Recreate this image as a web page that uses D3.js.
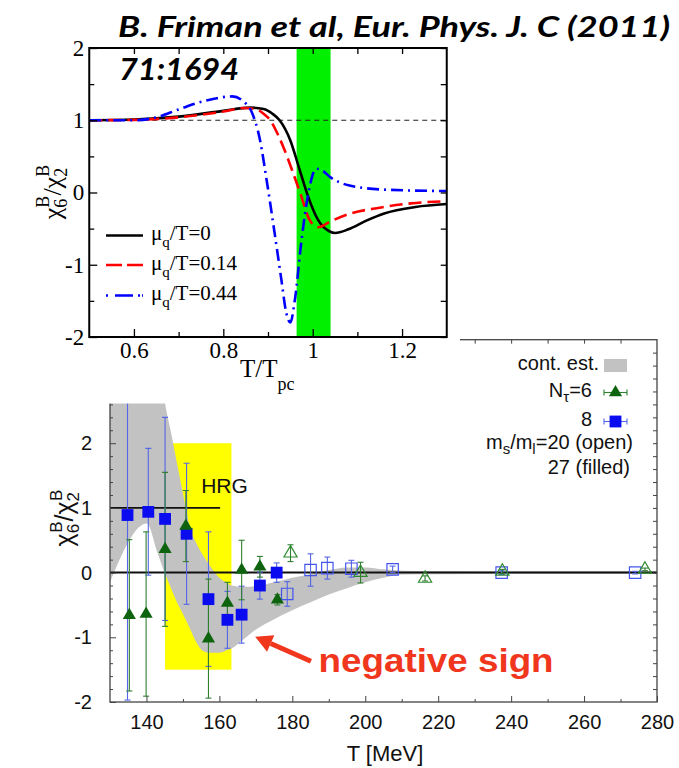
<!DOCTYPE html>
<html>
<head>
<meta charset="utf-8">
<script src="https://cdn.jsdelivr.net/npm/d3@7"></script>
<style>
  body { margin: 0; background: #fff; }
  .serif { font-family: "Liberation Serif", "DejaVu Serif", serif; }
  .sans { font-family: "Liberation Sans", Arial, sans-serif; }
</style>
</head>
<body>
<svg id="chart" width="679" height="768"></svg>
<script>
// ---------- Upper panel: chi6/chi2 from the model vs T/Tpc ----------
const curveMu0   = [[0.5,1.0],[0.6,1.01],[0.7,1.05],[0.8,1.13],[0.86,1.175],[0.89,1.155],[0.91,1.09],[0.926,1.0],[0.95,0.72],[0.971,0.31],[0.99,-0.06],[1.012,-0.38],[1.038,-0.54],[1.05,-0.56],[1.08,-0.51],[1.12,-0.39],[1.16,-0.29],[1.23,-0.2],[1.3,-0.16]];
const curveMu014 = [[0.5,1.0],[0.6,1.005],[0.7,1.04],[0.8,1.12],[0.85,1.17],[0.875,1.15],[0.89,1.09],[0.905,1.0],[0.92,0.83],[0.935,0.62],[0.955,0.29],[0.975,-0.06],[0.993,-0.38],[1.012,-0.48],[1.04,-0.40],[1.08,-0.3],[1.15,-0.21],[1.22,-0.15],[1.3,-0.12]];
const curveMu044 = [[0.5,1.0],[0.6,1.0],[0.65,1.04],[0.7,1.15],[0.76,1.27],[0.82,1.33],[0.845,1.26],[0.863,1.12],[0.882,0.73],[0.897,0.17],[0.915,-0.57],[0.93,-1.21],[0.941,-1.67],[0.95,-1.80],[0.96,-1.49],[0.975,-0.66],[0.99,-0.02],[1.008,0.33],[1.02,0.31],[1.04,0.21],[1.08,0.10],[1.16,0.04],[1.3,0.02]];
const curveLabels = ["0", "0.14", "0.44"];
const transitionBand = [0.964, 1.04];
const upperXTicks = [0.6, 0.8, 1.0, 1.2];
const upperXMinor = [0.7, 0.9, 1.1];
const upperYTicks = [-2, -1, 0, 1, 2];
const upperYMinor = [-1.5, -0.5, 0.5, 1.5];

// ---------- Lower panel: lattice data vs T [MeV] ----------
// [T, value, error]
const nt8Filled = [[134.8,0.89,2.86],[140.5,0.94,0.98],[145.1,0.83,1.57],[151.0,0.60,1.09],[157.0,-0.41,1.04],[162.2,-0.73,0.44],[166.1,-0.65,0.44],[171.1,-0.20,0.21],[175.7,0.0,0.15]];
const nt6Filled = [[135.3,-0.66,1.17],[139.9,-0.64,1.27],[145.1,0.36,1.19],[150.8,0.72,0.55],[157.0,-1.02,0.92],[162.2,-0.47,0.32],[166.1,0.04,0.46],[171.1,0.09,0.16],[175.9,-0.42,0.08]];
const nt8Open   = [[178.6,-0.33,0.19],[185.0,0.04,0.25],[189.6,0.07,0.17],[196.2,0.06,0.13],[207.5,0.05,0.05],[237.4,0.0,0.03],[274.0,0.0,0.02]];
const nt6Open   = [[179.5,0.30,0.13],[198.7,0.0,0.16],[216.4,-0.09,0.04],[237.6,0.02,0.03],[276.7,0.05,0.02]];
// continuum estimate band
const contT     = [130, 140.1, 143, 145.1, 146.5, 148.3, 150.1, 151.9, 153.7, 155.5, 157.5, 160, 162, 163.4, 166, 170, 175, 180, 185, 190, 195, 200, 205, 210, 220, 240, 260, 280];
const contUpper = [3.6, 3.6, 3.6, 2.62, 2.23, 1.71, 1.20, 0.70, 0.45, 0.27, 0.10, -0.08, -0.16, -0.2, -0.22, -0.21, -0.15, -0.08, -0.02, 0.04, 0.08, 0.08, 0.05, 0.03, 0.025, 0.02, 0.02, 0.02];
const contLower = [-0.15, 0.76, 0.31, -0.02, -0.21, -0.45, -0.65, -0.86, -1.08, -1.21, -1.24, -1.24, -1.2, -1.17, -1.06, -0.88, -0.72, -0.58, -0.46, -0.34, -0.24, -0.15, -0.08, -0.03, -0.025, -0.02, -0.02, -0.02];
// hadron resonance gas
const hrgT = [145.1, 163.3];
const hrgRange = [-1.5, 2.0];
const hrgLineT = [130, 160.2];
const hrgValue = 1;
const lowerXTicks = [140, 160, 180, 200, 220, 240, 260, 280];
const lowerYTicks = [-2, -1, 0, 1, 2, 3];
// arrow annotation (data coordinates): tail, tip, text anchor
const arrowTail = [185.1, -1.37];
const arrowTip = [169.8, -0.99];
const noteAnchor = [187.2, -1.54];

const svg = d3.select("#chart");
svg.append("rect").attr("width", 679).attr("height", 768).attr("fill", "#fff");
const hyphenFmt = d => (d < 0 ? "-" : "") + String(+Math.abs(d).toFixed(1));

// ======================= lower panel =======================
const xB = d3.scaleLinear().domain([130, 280]).range([110, 657]);
const yB = d3.scaleLinear().domain([-2, 3.6]).range([702, 339.7]);
const gB = svg.append("g");

svg.append("defs").append("clipPath").attr("id", "clipB")
  .append("rect").attr("x", 110).attr("y", 339.7).attr("width", 547).attr("height", 362.3);
const plotB = gB.append("g").attr("clip-path", "url(#clipB)");

// HRG box
plotB.append("rect")
  .attr("x", xB(hrgT[0])).attr("width", xB(hrgT[1]) - xB(hrgT[0]))
  .attr("y", yB(hrgRange[1])).attr("height", yB(hrgRange[0]) - yB(hrgRange[1]))
  .attr("fill", "#ffff00");

// continuum band
const area = d3.area()
  .x((d, i) => xB(contT[i]))
  .y0((d, i) => yB(contLower[i]))
  .y1((d, i) => yB(contUpper[i]))
  .curve(d3.curveMonotoneX);
plotB.append("path").datum(contT).attr("d", area).attr("fill", "#c2c2c2");

// reference lines
plotB.append("line")
  .attr("x1", xB(hrgLineT[0])).attr("x2", xB(hrgLineT[1]))
  .attr("y1", yB(hrgValue)).attr("y2", yB(hrgValue))
  .attr("stroke", "#111").attr("stroke-width", 1.6);
plotB.append("line")
  .attr("x1", xB(130)).attr("x2", xB(280))
  .attr("y1", yB(0)).attr("y2", yB(0))
  .attr("stroke", "#111").attr("stroke-width", 2);

gB.append("text").attr("class", "sans")
  .attr("x", xB(155)).attr("y", yB(1.23))
  .attr("font-size", 21).attr("fill", "#111").text("HRG");

// error bars
function errorBars(data, color) {
  const g = plotB.append("g").attr("stroke", color).attr("stroke-width", 1.1).attr("fill", "none");
  data.forEach(([t, v, e]) => {
    const x = xB(t), y0 = yB(v - e), y1 = yB(v + e);
    g.append("line").attr("x1", x).attr("x2", x).attr("y1", y0).attr("y2", y1);
    g.append("line").attr("x1", x - 3).attr("x2", x + 3).attr("y1", y0).attr("y2", y0);
    g.append("line").attr("x1", x - 3).attr("x2", x + 3).attr("y1", y1).attr("y2", y1);
  });
}
const blueErr = "#5566e6", greenErr = "#2f7f2f";
const blue = "#0b0bf0", green = "#0e640e";
errorBars(nt8Open, blueErr);
errorBars(nt6Open, greenErr);
errorBars(nt8Filled, blueErr);
errorBars(nt6Filled, greenErr);

const sq = d3.symbol().type(d3.symbolSquare).size(140);
const tri = d3.symbol().type(d3.symbolTriangle).size(75);

plotB.append("g").selectAll("path").data(nt8Open).join("path")
  .attr("d", d3.symbol().type(d3.symbolSquare).size(130))
  .attr("transform", d => `translate(${xB(d[0])},${yB(d[1])})`)
  .attr("fill", "none").attr("stroke", "#4455ee").attr("stroke-width", 1.2);
plotB.append("g").selectAll("path").data(nt6Open).join("path")
  .attr("d", tri)
  .attr("transform", d => `translate(${xB(d[0])},${yB(d[1])})`)
  .attr("fill", "none").attr("stroke", "#2f8a2f").attr("stroke-width", 1.2);
plotB.append("g").selectAll("path").data(nt8Filled).join("path")
  .attr("d", sq)
  .attr("transform", d => `translate(${xB(d[0])},${yB(d[1])})`)
  .attr("fill", blue);
plotB.append("g").selectAll("path").data(nt6Filled).join("path")
  .attr("d", tri)
  .attr("transform", d => `translate(${xB(d[0])},${yB(d[1])})`)
  .attr("fill", green);

// axes of the lower panel
function styleAxis(g) {
  g.select(".domain").remove();
  g.selectAll(".tick line").attr("stroke", "#444").attr("stroke-width", 1);
  g.selectAll("text").attr("class", "sans").attr("font-size", 20).attr("fill", "#111")
    .attr("font-family", null);
}
gB.append("g").attr("transform", "translate(0,702)")
  .call(d3.axisBottom(xB).tickValues(lowerXTicks).tickSize(-6).tickPadding(13).tickFormat(d3.format("d")))
  .call(styleAxis);
gB.append("g").attr("transform", "translate(0,702)")
  .call(d3.axisBottom(xB).tickValues(d3.range(150, 280, 20)).tickSize(-3).tickFormat(""))
  .call(styleAxis);
gB.append("g").attr("transform", "translate(0,339.7)")
  .call(d3.axisTop(xB).tickValues(d3.range(140, 280, 10)).tickSize(-4).tickFormat(""))
  .call(styleAxis);
gB.append("g").attr("transform", "translate(110,0)")
  .call(d3.axisLeft(yB).tickValues(lowerYTicks).tickSize(-6).tickPadding(18).tickFormat(hyphenFmt))
  .call(styleAxis);
gB.append("g").attr("transform", "translate(110,0)")
  .call(d3.axisLeft(yB).tickValues(d3.range(-1.8, 3.6, 0.2).filter(v => Math.abs(v - Math.round(v)) > 0.05)).tickSize(-3).tickFormat(""))
  .call(styleAxis);
gB.append("g").attr("transform", "translate(657,0)")
  .call(d3.axisRight(yB).tickValues(d3.range(-1.8, 3.6, 0.2)).tickSize(-4).tickFormat(""))
  .call(styleAxis);
gB.append("rect").attr("x", 110).attr("y", 339.7).attr("width", 547).attr("height", 362.3)
  .attr("fill", "none").attr("stroke", "#444").attr("stroke-width", 1.3);

// axis titles
gB.append("text").attr("class", "sans").attr("x", 385).attr("y", 761)
  .attr("text-anchor", "middle").attr("font-size", 22).attr("fill", "#111").text("T [MeV]");
const yLabB = gB.append("text").attr("class", "sans")
  .attr("transform", "translate(73,518) rotate(-90)")
  .attr("text-anchor", "middle").attr("font-size", 25).attr("fill", "#111");
yLabB.append("tspan").text("χ");
yLabB.append("tspan").attr("font-size", 17).attr("dy", 6).text("6");
yLabB.append("tspan").attr("font-size", 17).attr("dx", -9).attr("dy", -17).text("B");
yLabB.append("tspan").attr("dy", 11).text("/χ");
yLabB.append("tspan").attr("font-size", 17).attr("dy", 6).text("2");
yLabB.append("tspan").attr("font-size", 17).attr("dx", -9).attr("dy", -17).text("B");

// legend of the lower panel
const lg = gB.append("g").attr("class", "sans").attr("font-size", 20).attr("fill", "#111");
lg.append("text").attr("x", 599).attr("y", 370).attr("text-anchor", "end").text("cont. est.");
lg.append("rect").attr("x", 604).attr("y", 359).attr("width", 23).attr("height", 13).attr("fill", "#c2c2c2");
const lgN = lg.append("text").attr("x", 592).attr("y", 397).attr("text-anchor", "end");
lgN.append("tspan").text("N");
lgN.append("tspan").attr("font-size", 15).attr("dy", 5).text("τ");
lgN.append("tspan").attr("dy", -5).text("=6");
lg.append("text").attr("x", 592).attr("y", 426).attr("text-anchor", "end").text("8");
const lgM = lg.append("text").attr("x", 633).attr("y", 449).attr("text-anchor", "end");
lgM.append("tspan").text("m");
lgM.append("tspan").attr("font-size", 15).attr("dy", 5).text("s");
lgM.append("tspan").attr("dy", -5).text("/m");
lgM.append("tspan").attr("font-size", 15).attr("dy", 5).text("l");
lgM.append("tspan").attr("dy", -5).text("=20 (open)");
lg.append("text").attr("x", 630).attr("y", 474).attr("text-anchor", "end").text("27 (filled)");
function legendBar(y, color) {
  lg.append("line").attr("x1", 604).attr("x2", 627).attr("y1", y).attr("y2", y).attr("stroke", color).attr("stroke-width", 1.1);
  [604, 627].forEach(x => lg.append("line").attr("x1", x).attr("x2", x).attr("y1", y - 3).attr("y2", y + 3).attr("stroke", color).attr("stroke-width", 1.1));
}
legendBar(392.5, greenErr);
lg.append("path").attr("d", tri).attr("transform", "translate(615.5,392.5)").attr("fill", green);
legendBar(421.5, blueErr);
lg.append("path").attr("d", sq).attr("transform", "translate(615.5,421.5)").attr("fill", blue);

// annotation
const red = "#f0361c";
const ax0 = xB(arrowTail[0]), ay0 = yB(arrowTail[1]), ax1 = xB(arrowTip[0]), ay1 = yB(arrowTip[1]);
const ang = Math.atan2(ay1 - ay0, ax1 - ax0);
const headLen = 17, headW = 9;
const bx = ax1 - headLen * Math.cos(ang), by = ay1 - headLen * Math.sin(ang);
gB.append("line").attr("x1", ax0).attr("y1", ay0).attr("x2", bx).attr("y2", by)
  .attr("stroke", red).attr("stroke-width", 5);
gB.append("path").attr("fill", red).attr("d",
  `M${ax1},${ay1} L${bx - headW * Math.sin(ang)},${by + headW * Math.cos(ang)} L${bx + headW * Math.sin(ang)},${by - headW * Math.cos(ang)} Z`);
gB.append("text").attr("class", "sans").attr("x", xB(noteAnchor[0])).attr("y", yB(noteAnchor[1]))
  .attr("font-size", 33).attr("font-weight", "bold").attr("fill", red)
  .attr("textLength", 235).attr("lengthAdjust", "spacingAndGlyphs").text("negative sign");

// ======================= upper panel =======================
svg.append("rect").attr("x", 0).attr("y", 0).attr("width", 460).attr("height", 403.5).attr("fill", "#fff");

const xT = d3.scaleLinear().domain([0.5, 1.3]).range([89.25, 446.75]);
const yT = d3.scaleLinear().domain([-2, 2]).range([337, 48]);
const gT = svg.append("g");

gT.append("rect")
  .attr("x", xT(transitionBand[0])).attr("width", xT(transitionBand[1]) - xT(transitionBand[0]))
  .attr("y", yT(2)).attr("height", yT(-2) - yT(2)).attr("fill", "#00f000");

gT.append("line").attr("x1", xT(0.5)).attr("x2", xT(1.3)).attr("y1", yT(1)).attr("y2", yT(1))
  .attr("stroke", "#222").attr("stroke-width", 1.1).attr("stroke-dasharray", "5,4");

const line = d3.line().x(d => xT(d[0])).y(d => yT(d[1])).curve(d3.curveMonotoneX);
const curveStyles = [
  { data: curveMu0, color: "#000", dash: null },
  { data: curveMu014, color: "#ff0000", dash: "13,6" },
  { data: curveMu044, color: "#0000ff", dash: "12,5,2,5" }
];
curveStyles.forEach(s => {
  gT.append("path").datum(s.data).attr("d", line).attr("fill", "none")
    .attr("stroke", s.color).attr("stroke-width", 2.6)
    .attr("stroke-dasharray", s.dash);
});

function styleAxisT(g) {
  g.select(".domain").remove();
  g.selectAll(".tick line").attr("stroke", "#000").attr("stroke-width", 1.3);
  g.selectAll("text").attr("font-family", null).attr("class", "serif").attr("font-size", 23).attr("fill", "#000");
}
gT.append("g").attr("transform", "translate(0,337)")
  .call(d3.axisBottom(xT).tickValues(upperXTicks).tickSize(-8).tickPadding(5).tickFormat(hyphenFmt)).call(styleAxisT);
gT.append("g").attr("transform", "translate(0,337)")
  .call(d3.axisBottom(xT).tickValues(upperXMinor).tickSize(-5).tickFormat("")).call(styleAxisT);
gT.append("g").attr("transform", "translate(0,48)")
  .call(d3.axisTop(xT).tickValues(upperXTicks.concat(upperXMinor)).tickSize(-6).tickFormat("")).call(styleAxisT);
gT.append("g").attr("transform", "translate(89.25,0)")
  .call(d3.axisLeft(yT).tickValues(upperYTicks).tickSize(-8).tickPadding(5).tickFormat(hyphenFmt)).call(styleAxisT);
gT.append("g").attr("transform", "translate(89.25,0)")
  .call(d3.axisLeft(yT).tickValues(upperYMinor).tickSize(-5).tickFormat("")).call(styleAxisT);
gT.append("g").attr("transform", "translate(446.75,0)")
  .call(d3.axisRight(yT).tickValues(upperYTicks.concat(upperYMinor)).tickSize(-6).tickFormat("")).call(styleAxisT);
gT.append("rect").attr("x", 89.25).attr("y", 48).attr("width", 357.5).attr("height", 289)
  .attr("fill", "none").attr("stroke", "#000").attr("stroke-width", 2);

// axis titles of the upper panel
const xLabT = gT.append("text").attr("class", "serif").attr("x", 240).attr("y", 377)
  .attr("font-size", 25).attr("fill", "#000");
xLabT.append("tspan").text("T/T");
xLabT.append("tspan").attr("font-size", 18).attr("dy", 13).text("pc");

const yLabT = gT.append("text").attr("class", "serif")
  .attr("transform", "translate(61,192) rotate(-90)")
  .attr("text-anchor", "middle").attr("font-size", 26).attr("fill", "#000");
yLabT.append("tspan").text("χ");
yLabT.append("tspan").attr("font-size", 18).attr("dy", 6).text("6");
yLabT.append("tspan").attr("font-size", 18).attr("dx", -9).attr("dy", -18).text("B");
yLabT.append("tspan").attr("dy", 12).text("/χ");
yLabT.append("tspan").attr("font-size", 18).attr("dy", 6).text("2");
yLabT.append("tspan").attr("font-size", 18).attr("dx", -9).attr("dy", -18).text("B");

// legend of the upper panel
const legYs = [235.5, 265, 295.5];
curveStyles.forEach((s, i) => {
  gT.append("line").attr("x1", 106).attr("x2", 143).attr("y1", legYs[i]).attr("y2", legYs[i])
    .attr("stroke", s.color).attr("stroke-width", 2.6).attr("stroke-dasharray", s.dash ? (i === 1 ? "16,5" : "2,7,18,5,2") : null);
  const t = gT.append("text").attr("class", "serif").attr("x", 151).attr("y", legYs[i] + 4.5)
    .attr("font-size", 21).attr("fill", "#000");
  t.append("tspan").text("μ");
  t.append("tspan").attr("font-size", 15).attr("dy", 7).text("q");
  t.append("tspan").attr("dy", -7).text("/T=" + curveLabels[i]);
});

// citation
const cite = svg.append("g").attr("font-family", "Lato, 'Open Sans', sans-serif")
  .attr("font-weight", "bold").attr("font-style", "italic").attr("fill", "#000");
cite.append("text").attr("x", 118).attr("y", 37).attr("font-size", 29)
  .attr("textLength", 552).attr("lengthAdjust", "spacingAndGlyphs")
  .text("B. Friman et al, Eur. Phys. J. C (2011)");
cite.append("text").attr("x", 119).attr("y", 80).attr("font-size", 30)
  .attr("textLength", 120).attr("lengthAdjust", "spacingAndGlyphs")
  .text("71:1694");
</script>
</body>
</html>
